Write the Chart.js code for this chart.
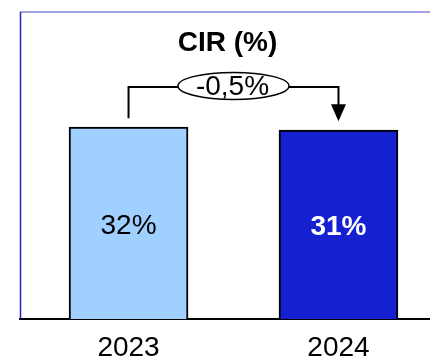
<!DOCTYPE html>
<html lang="en">
<head>
    <meta charset="UTF-8">
    <title>CIR</title>
    <style>
        body { margin: 0; background: #fff; }
    </style>
</head>
<body>
    <canvas id="myChart" width="430" height="361"></canvas>

    <script src="https://cdn.jsdelivr.net/npm/chart.js"></script>

    <script>
        // data
        const years = ['2023', '2024'];
        const cirValues = [31.5, 31.0];
        const valueLabels = ['32%', '31%'];
        const changeLabel = '-0,5%';
        const chartTitle = 'CIR (%)';

        const barColors = ['#a0d0ff', '#1520d0'];
        const labelColors = ['#000', '#fff'];
        const labelWeights = ['normal', 'bold'];
        const fontFamily = '"Liberation Sans", Arial, sans-serif';

        // frame, labels, title and the change bubble
        const extras = {
            id: 'extras',
            afterDatasetsDraw(chart) {
                const ctx = chart.ctx;
                const area = chart.chartArea;
                const ys = chart.scales.y;
                const meta = chart.getDatasetMeta(0);

                ctx.save();
                // frame lines
                ctx.lineWidth = 1.5;
                ctx.strokeStyle = '#8585dc';
                ctx.beginPath();
                ctx.moveTo(area.left, area.top);
                ctx.lineTo(area.right, area.top);
                ctx.stroke();
                ctx.strokeStyle = '#2222c0';
                ctx.beginPath();
                ctx.moveTo(area.left + 0.5, area.top);
                ctx.lineTo(area.left + 0.5, area.bottom);
                ctx.stroke();

                // value labels inside bars
                ctx.textAlign = 'center';
                ctx.textBaseline = 'middle';
                meta.data.forEach((bar, i) => {
                    ctx.font = labelWeights[i] + ' 28px ' + fontFamily;
                    ctx.fillStyle = labelColors[i];
                    ctx.fillText(valueLabels[i], bar.x, (bar.y + bar.base) / 2 + 3);
                });

                // title
                const midX = (meta.data[0].x + meta.data[1].x) / 2;
                ctx.fillStyle = '#000';
                ctx.font = 'bold 28px ' + fontFamily;
                ctx.fillText(chartTitle, midX - 6, area.top + 31);

                // connector
                const lineY = ys.getPixelForValue(38.1);
                const x0 = meta.data[0].x;
                const x1 = meta.data[1].x;
                ctx.strokeStyle = '#000';
                ctx.lineWidth = 2;
                ctx.beginPath();
                ctx.moveTo(x0, meta.data[0].y - 9);
                ctx.lineTo(x0, lineY);
                ctx.lineTo(x1, lineY);
                ctx.lineTo(x1, meta.data[1].y - 24);
                ctx.stroke();

                // arrow head
                const tipY = meta.data[1].y - 9;
                ctx.fillStyle = '#000';
                ctx.beginPath();
                ctx.moveTo(x1 - 7.5, tipY - 17);
                ctx.lineTo(x1 + 7.5, tipY - 17);
                ctx.lineTo(x1, tipY);
                ctx.closePath();
                ctx.fill();

                // bubble
                ctx.fillStyle = '#fff';
                ctx.lineWidth = 1.5;
                ctx.beginPath();
                ctx.ellipse(midX, lineY - 1, 55.5, 13.5, 0, 0, Math.PI * 2);
                ctx.fill();
                ctx.stroke();
                ctx.fillStyle = '#000';
                ctx.font = '28px ' + fontFamily;
                ctx.fillText(changeLabel, midX - 1, lineY);
                ctx.restore();
            }
        };

        const ctx = document.getElementById('myChart');

        let chart = new Chart(ctx, {
            type: 'bar',
            data: {
                datasets: [{
                    data: years.map((y, i) => ({ x: i, y: cirValues[i] })),
                    backgroundColor: barColors,
                    borderColor: '#000',
                    borderWidth: 2,
                    barThickness: 119
                }]
            },
            options: {
                responsive: false,
                animation: false,
                layout: { padding: { top: 12, left: 20, right: 0, bottom: 0 } },
                plugins: {
                    legend: { display: false },
                    tooltip: { enabled: false }
                },
                scales: {
                    x: {
                        type: 'linear',
                        offset: false,
                        min: -0.517,
                        max: 1.436,
                        afterBuildTicks: (scale) => {
                            scale.ticks = years.map((y, i) => ({ value: i }));
                        },
                        afterFit: (scale) => { scale.height = 42; },
                        grid: { display: false, drawTicks: false, offset: false },
                        border: { display: true, color: '#000', width: 2 },
                        ticks: {
                            padding: 12,
                            color: '#000',
                            font: { family: fontFamily, size: 28 },
                            callback: (v) => years[v]
                        }
                    },
                    y: {
                        display: false,
                        min: 0,
                        max: 50.4
                    }
                }
            },
            plugins: [extras]
        });
    </script>
</body>
</html>
